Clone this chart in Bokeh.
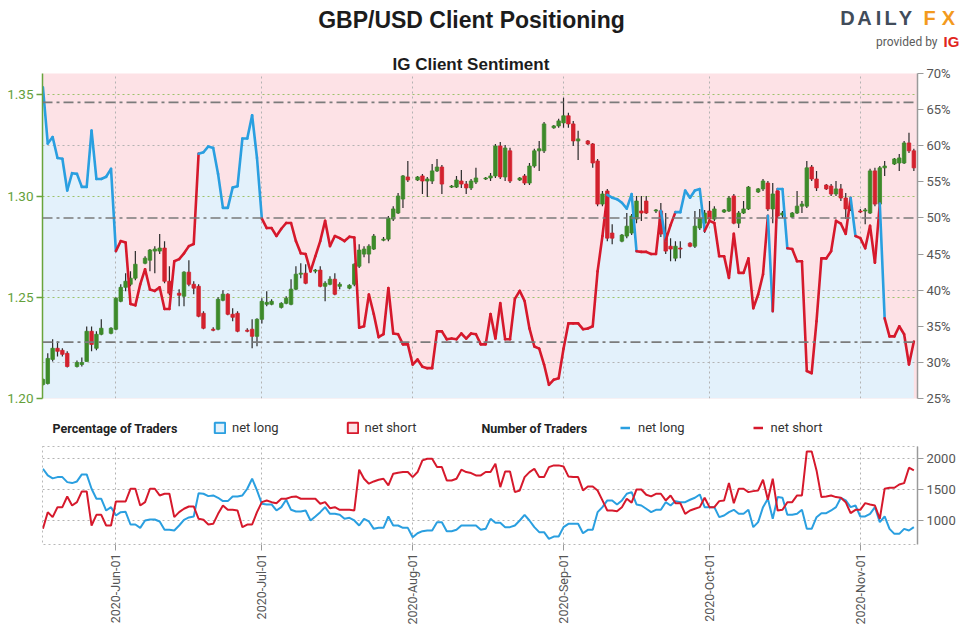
import math
import pandas as pd
from bokeh.plotting import figure
from bokeh.models import (Range1d, LinearAxis, FixedTicker, Grid, Span, Label,
                          ColumnDataSource, NumeralTickFormatter, PrintfTickFormatter,
                          DatetimeTickFormatter, Legend, LegendItem)
from bokeh.layouts import column
from bokeh.embed import file_html
from bokeh.resources import INLINE

FONT = "Roboto"
TFONT = "Liberation Sans"

# ---------------- data ----------------
candle_first, candle_last = "2020-05-17", "2020-11-12"   # daily candles, no Saturdays
sent_first, sent_last = "2020-05-17", "2020-11-12"       # daily sentiment readings

open_ = [1.2069, 1.2074, 1.2193, 1.2248, 1.2238, 1.2223,
         1.2158, 1.2168, 1.2183, 1.2332, 1.2248, 1.2317,
         1.2322,
         1.2342, 1.2480, 1.2549, 1.2564, 1.2594,
         1.2668, 1.2683, 1.2728, 1.2728, 1.2743, 1.2579,
         1.2520, 1.2505, 1.2624, 1.2564, 1.2554, 1.2421,
         1.2342, 1.2342, 1.2485, 1.2515, 1.2416, 1.2421,
         1.2337, 1.2342, 1.2307,
         1.2391, 1.2465, 1.2465,
         1.2450, 1.2470, 1.2465, 1.2540, 1.2614, 1.2619,
         1.2629, 1.2634, 1.2554, 1.2564, 1.2589, 1.2554,
         1.2545, 1.2564, 1.2653, 1.2713, 1.2713, 1.2738,
         1.2782, 1.2787, 1.2886, 1.2916, 1.2985, 1.3094,
         1.3079, 1.3099, 1.3074, 1.3074, 1.3124, 1.3143,
         1.3044, 1.3044, 1.3074, 1.3059, 1.3040, 1.3069,
         1.3084, 1.3089, 1.3099, 1.3247, 1.3094, 1.3223,
         1.3079, 1.3099, 1.3064, 1.3148, 1.3223, 1.3223,
         1.3337, 1.3346,
         1.3361, 1.3396, 1.3356, 1.3272,
         1.3272, 1.3257, 1.3173, 1.2960, 1.3025, 1.2817,
         1.2777, 1.2802, 1.2817, 1.2886, 1.2926, 1.2975,
         1.2926, 1.2926, 1.2817, 1.2752, 1.2693, 1.2743,
         1.2767, 1.2752, 1.2842, 1.2866,
         1.2926, 1.2886,
         1.2921, 1.2926, 1.3000, 1.2866, 1.2916, 1.2936,
         1.3020, 1.3035, 1.3064, 1.2936, 1.3025, 1.2906,
         1.2896, 1.2916, 1.2950, 1.2950, 1.3143, 1.3084,
         1.3054, 1.3049, 1.3010, 1.3035, 1.2990, 1.2936,
         1.2926, 1.2926, 1.2916, 1.3124, 1.2960, 1.3139,
         1.3158, 1.3163, 1.3163, 1.3262, 1.3223]

high = [1.2099, 1.2223, 1.2292, 1.2282, 1.2248, 1.2233,
        1.2188, 1.2203, 1.2356, 1.2356, 1.2332, 1.2391,
        1.2352,
        1.2500, 1.2564, 1.2619, 1.2629, 1.2728,
        1.2703, 1.2738, 1.2752, 1.2812, 1.2777, 1.2653,
        1.2540, 1.2629, 1.2683, 1.2579, 1.2564, 1.2431,
        1.2352, 1.2500, 1.2535, 1.2520, 1.2446, 1.2431,
        1.2347, 1.2391, 1.2396,
        1.2495, 1.2530, 1.2490,
        1.2475, 1.2505, 1.2589, 1.2653, 1.2668, 1.2663,
        1.2639, 1.2653, 1.2579, 1.2604, 1.2619, 1.2574,
        1.2564, 1.2668, 1.2762, 1.2752, 1.2762, 1.2812,
        1.2797, 1.2901, 1.2950, 1.3015, 1.3104, 1.3173,
        1.3099, 1.3109, 1.3094, 1.3158, 1.3183, 1.3153,
        1.3054, 1.3099, 1.3129, 1.3074, 1.3084, 1.3139,
        1.3094, 1.3114, 1.3257, 1.3267, 1.3252, 1.3238,
        1.3094, 1.3109, 1.3163, 1.3233, 1.3272, 1.3366,
        1.3351, 1.3381,
        1.3485, 1.3411, 1.3371, 1.3322,
        1.3277, 1.3262, 1.3183, 1.3025, 1.3035, 1.2861,
        1.2812, 1.2916, 1.2911, 1.3000, 1.3000, 1.3000,
        1.2936, 1.2965, 1.2916, 1.2792, 1.2777, 1.2777,
        1.2772, 1.2926, 1.2936, 1.2931,
        1.2975, 1.2950,
        1.2936, 1.3000, 1.3010, 1.2926, 1.2975, 1.3049,
        1.3040, 1.3084, 1.3074, 1.3064, 1.3035, 1.2926,
        1.2921, 1.3025, 1.2975, 1.3173, 1.3153, 1.3124,
        1.3059, 1.3059, 1.3074, 1.3059, 1.3015, 1.2975,
        1.2936, 1.2941, 1.3134, 1.3139, 1.3148, 1.3173,
        1.3188, 1.3208, 1.3272, 1.3312, 1.3233]

low = [1.2064, 1.2069, 1.2183, 1.2208, 1.2208, 1.2153,
       1.2153, 1.2158, 1.2183, 1.2233, 1.2238, 1.2312,
       1.2317,
       1.2337, 1.2475, 1.2530, 1.2554, 1.2584,
       1.2663, 1.2629, 1.2619, 1.2713, 1.2569, 1.2510,
       1.2455, 1.2455, 1.2554, 1.2515, 1.2401, 1.2342,
       1.2332, 1.2337, 1.2480, 1.2411, 1.2381, 1.2327,
       1.2327, 1.2248, 1.2258,
       1.2371, 1.2455, 1.2460,
       1.2445, 1.2465, 1.2460, 1.2535, 1.2594, 1.2564,
       1.2619, 1.2549, 1.2480, 1.2559, 1.2510, 1.2540,
       1.2540, 1.2554, 1.2644, 1.2698, 1.2668, 1.2733,
       1.2777, 1.2777, 1.2876, 1.2911, 1.2941, 1.3069,
       1.3074, 1.3010, 1.2995, 1.3059, 1.3119, 1.3010,
       1.3040, 1.3040, 1.3040, 1.3010, 1.3030, 1.3059,
       1.3079, 1.3074, 1.3089, 1.3084, 1.3074, 1.3064,
       1.3074, 1.3054, 1.3054, 1.3139, 1.3124, 1.3213,
       1.3332, 1.3337,
       1.3337, 1.3337, 1.3247, 1.3178,
       1.3252, 1.3139, 1.2950, 1.2950, 1.2777, 1.2762,
       1.2772, 1.2792, 1.2807, 1.2866, 1.2876, 1.2911,
       1.2916, 1.2797, 1.2713, 1.2678, 1.2678, 1.2693,
       1.2747, 1.2743, 1.2832, 1.2817,
       1.2876, 1.2876,
       1.2916, 1.2921, 1.2861, 1.2842, 1.2911, 1.2931,
       1.3015, 1.3025, 1.2926, 1.2866, 1.2891, 1.2891,
       1.2891, 1.2911, 1.2916, 1.2941, 1.3074, 1.3025,
       1.3030, 1.3000, 1.3000, 1.2975, 1.2886, 1.2926,
       1.2916, 1.2861, 1.2911, 1.2950, 1.2950, 1.3099,
       1.3153, 1.3124, 1.3158, 1.3213, 1.3124]

close = [1.2094, 1.2198, 1.2248, 1.2233, 1.2218, 1.2158,
         1.2178, 1.2178, 1.2332, 1.2267, 1.2317, 1.2347,
         1.2347,
         1.2495, 1.2549, 1.2579, 1.2594, 1.2663,
         1.2693, 1.2733, 1.2738, 1.2743, 1.2579, 1.2520,
         1.2510, 1.2624, 1.2564, 1.2545, 1.2406, 1.2347,
         1.2337, 1.2490, 1.2515, 1.2416, 1.2401, 1.2332,
         1.2332, 1.2307, 1.2391,
         1.2480, 1.2475, 1.2480,
         1.2470, 1.2495, 1.2540, 1.2614, 1.2619, 1.2569,
         1.2634, 1.2554, 1.2569, 1.2589, 1.2515, 1.2564,
         1.2559, 1.2663, 1.2733, 1.2738, 1.2752, 1.2802,
         1.2787, 1.2891, 1.2936, 1.3000, 1.3099, 1.3079,
         1.3094, 1.3074, 1.3084, 1.3124, 1.3143, 1.3059,
         1.3049, 1.3079, 1.3059, 1.3040, 1.3074, 1.3089,
         1.3089, 1.3099, 1.3247, 1.3094, 1.3237, 1.3074,
         1.3089, 1.3064, 1.3148, 1.3223, 1.3233, 1.3356,
         1.3346, 1.3371,
         1.3396, 1.3356, 1.3272, 1.3282,
         1.3257, 1.3163, 1.2960, 1.3010, 1.2792, 1.2792,
         1.2807, 1.2851, 1.2901, 1.2975, 1.2916, 1.2916,
         1.2931, 1.2812, 1.2728, 1.2738, 1.2752, 1.2738,
         1.2752, 1.2851, 1.2891, 1.2916,
         1.2886, 1.2936,
         1.2931, 1.2990, 1.2866, 1.2916, 1.2936, 1.3044,
         1.3035, 1.3074, 1.2936, 1.3010, 1.2901, 1.2916,
         1.2916, 1.2950, 1.2960, 1.3139, 1.3084, 1.3040,
         1.3035, 1.3010, 1.3035, 1.2990, 1.2936, 1.2950,
         1.2921, 1.2931, 1.3124, 1.2960, 1.3139, 1.3148,
         1.3183, 1.3188, 1.3262, 1.3223, 1.3139]

# % of clients net long (daily)
pct_net_long = [68.1, 60.3, 61.2, 58.3, 58.2, 53.8, 56.2, 56.1, 54.3, 54.3,
                62.1, 55.4, 55.4, 55.7, 56.8, 45.4, 46.8, 46.6, 38.1, 37.9,
                40.8, 42.9, 40.1, 39.9, 40.4, 37.4, 37.4, 44.0, 44.3, 45.1,
                46.1, 46.4, 58.9, 59.1, 59.9, 59.7, 56.1, 51.4, 51.4, 54.2,
                54.4, 61.0, 61.0, 64.2, 58.3, 49.9, 48.6, 48.6, 47.5, 48.5,
                49.3, 49.3, 46.8, 45.1, 45.0, 42.6, 44.7, 46.8, 49.6, 46.1,
                47.5, 47.2, 46.8, 47.4, 47.3, 34.8, 35.0, 39.4, 36.7, 33.5,
                33.9, 40.3, 34.0, 33.9, 32.5, 32.5, 29.7, 30.4, 29.4, 29.2,
                29.2, 34.3, 34.3, 33.2, 33.3, 33.2, 34.0, 33.3, 34.0, 33.9,
                32.5, 32.5, 36.7, 33.3, 38.2, 33.2, 33.2, 38.8, 39.9, 38.5,
                34.7, 32.2, 31.9, 29.7, 26.9, 27.6, 27.8, 31.9, 35.4, 35.4,
                35.4, 34.6, 34.7, 35.0, 42.6, 47.5, 53.2, 52.8, 52.6, 52.1,
                51.3, 53.3, 45.4, 45.3, 45.3, 45.0, 45.0, 51.0, 46.9, 49.0,
                50.8, 50.8, 53.8, 52.8, 53.8, 54.0, 48.2, 49.6, 49.3, 44.7,
                44.7, 41.7, 47.8, 42.4, 42.4, 44.4, 37.5, 39.4, 42.2, 50.3,
                37.1, 54.0, 54.0, 45.8, 45.7, 44.0, 44.0, 28.8, 28.5, 35.7,
                44.4, 44.4, 45.4, 49.6, 49.2, 47.8, 52.8, 47.5, 47.2, 45.8,
                48.9, 43.8, 52.0, 36.1, 33.6, 33.6, 35.0, 33.9, 29.7, 32.9]

traders_long = [1839, 1730, 1682, 1703, 1703, 1622, 1606, 1633, 1747, 1747,
                1514, 1352, 1352, 1162, 1216, 1081, 1135, 1140, 935, 935,
                881, 1000, 1016, 1016, 984, 849, 849, 838, 919, 1011,
                1049, 1065, 1443, 1433, 1395, 1406, 1368, 1314, 1314, 1390,
                1390, 1406, 1514, 1677, 1487, 1271, 1260, 1260, 1162, 1216,
                1336, 1173, 1146, 1146, 1162, 1000, 1065, 1135, 1216, 1108,
                1108, 1092, 1027, 1043, 1000, 919, 1027, 984, 865, 881,
                881, 1065, 919, 919, 881, 881, 729, 794, 827, 838,
                838, 973, 973, 827, 827, 849, 919, 919, 919, 919,
                849, 865, 1027, 962, 962, 892, 892, 919, 1000, 1092,
                1000, 892, 811, 811, 703, 740, 740, 892, 946, 946,
                946, 794, 849, 849, 1135, 1216, 1325, 1325, 1260, 1325,
                1433, 1460, 1260, 1243, 1190, 1135, 1173, 1173, 1297, 1243,
                1314, 1297, 1297, 1336, 1368, 1422, 1216, 1216, 1216, 1054,
                1081, 1135, 1173, 1108, 1108, 1173, 892, 973, 1216, 1352,
                1027, 1379, 1368, 1092, 1092, 1108, 1173, 865, 865, 1054,
                1119, 1119, 1162, 1216, 1368, 1325, 1216, 1243, 1065, 1065,
                1108, 1216, 973, 1065, 865, 784, 784, 865, 838, 892]

traders_short = [865, 1135, 1054, 1216, 1216, 1389, 1243, 1297, 1471, 1471,
                 919, 1092, 1092, 919, 919, 1308, 1308, 1308, 1514, 1514,
                 1243, 1297, 1514, 1514, 1406, 1433, 1433, 1054, 1135, 1190,
                 1227, 1227, 1027, 1011, 935, 946, 1108, 1243, 1173, 1173,
                 1162, 892, 935, 935, 1135, 1297, 1325, 1297, 1281, 1352,
                 1352, 1379, 1390, 1352, 1352, 1352, 1352, 1271, 1297, 1200,
                 1216, 1173, 1173, 1173, 1162, 1823, 1677, 1596, 1633, 1660,
                 1677, 1568, 1758, 1774, 1785, 1785, 1703, 1785, 1974, 2001,
                 2001, 1865, 1865, 1649, 1649, 1677, 1823, 1785, 1769, 1730,
                 1730, 1785, 1785, 1920, 1541, 1795, 1795, 1460, 1487, 1703,
                 1784, 1839, 1703, 1703, 1865, 1893, 1893, 1876, 1714, 1703,
                 1703, 1487, 1552, 1552, 1487, 1325, 1162, 1162, 1151, 1216,
                 1352, 1290, 1503, 1503, 1417, 1390, 1433, 1433, 1325, 1406,
                 1281, 1281, 1108, 1162, 1190, 1216, 1368, 1216, 1216, 1314,
                 1325, 1606, 1281, 1514, 1514, 1460, 1476, 1487, 1660, 1336,
                 1677, 1162, 1173, 1297, 1297, 1406, 1406, 2120, 2120, 1812,
                 1379, 1390, 1406, 1379, 1368, 1297, 1119, 1173, 1173, 1281,
                 1260, 1243, 1027, 1514, 1530, 1530, 1584, 1606, 1855, 1812]

price_ticks = [1.20, 1.25, 1.30, 1.35]
pct_ticks = [25, 30, 35, 40, 45, 50, 55, 60, 65, 70]
pct_grid = [30, 40, 60, 70]
ref_levels_pct = [66.0, 50.0, 32.8]
count_ticks = [1000, 1500, 2000]
month_ticks = ["2020-06-01", "2020-07-01", "2020-08-01", "2020-09-01", "2020-10-01", "2020-11-01"]

# ---------------- styling ----------------
BLUE = "#2a9fe0"
RED = "#d6192c"
FILL_BLUE = "#e3f1fb"
FILL_PINK = "#fde2e6"
CANDLE_UP = "#3d8a2a"
CANDLE_DN = "#d3222e"
AXIS_GREEN = "#68a43c"
GRID_GREY = "#b3b3b3"
GRID_GREEN = "#9cc26a"
W = 970

candle_dates = [d for d in pd.date_range(candle_first, candle_last, freq="D") if d.dayofweek != 5]
sent_dates = list(pd.date_range(sent_first, sent_last, freq="D"))
assert len(candle_dates) == len(open_) == len(high) == len(low) == len(close)
assert len(sent_dates) == len(pct_net_long) == len(traders_long) == len(traders_short)
month_ms = [pd.Timestamp(t).value / 1e6 for t in month_ticks]

x_rng = Range1d(pd.Timestamp("2020-05-16 22:00"), pd.Timestamp("2020-11-12 18:00"))


def no_align(fig):
    try:
        fig.frame_align = False
    except Exception:
        pass


# ---------------- header (title + logo) ----------------
hd = figure(width=W, height=50, x_range=Range1d(0, W), y_range=Range1d(0, 50),
            x_axis_location=None, y_axis_location=None, output_backend="svg",
            toolbar_location=None, title_location=None, min_border=0,
            outline_line_color=None)
hd.grid.visible = False
no_align(hd)


def hlab(x, y, text, size, color, bold=False, align="center", font=FONT):
    hd.add_layout(Label(x=x, y=y, x_units="screen", y_units="screen", text=text,
                        text_font=font, text_font_size=size, text_color=color,
                        text_font_style="bold" if bold else "normal",
                        text_align=align, text_baseline="middle"))


hlab(471, 31, "GBP/USD Client Positioning", "23px", "#1c1c1c", bold=True, font=TFONT)
for ch, xx, col in [("D", 847, "#414c5a"), ("A", 864, "#414c5a"), ("I", 878, "#414c5a"),
                    ("L", 890, "#414c5a"), ("Y", 905, "#414c5a"),
                    ("F", 929, "#f39a1e"), ("X", 948, "#f39a1e")]:
    hlab(xx, 33, ch, "20px", col, bold=True, font=TFONT)
hlab(937, 9, "provided by", "12px", "#5b5b5b", align="right")
hlab(943, 9, "IG", "15px", "#e1261c", bold=True, align="left", font=TFONT)

# ---------------- top panel ----------------
p1 = figure(width=W, height=363, x_range=x_rng, y_range=Range1d(1.20, 1.3605),
            x_axis_type="datetime", x_axis_location=None, y_axis_location="left",
            output_backend="svg", toolbar_location=None,
            title="IG Client Sentiment", title_location="above",
            min_border_left=42, min_border_right=53, min_border_top=23, min_border_bottom=15,
            background_fill_color=FILL_PINK, outline_line_color=None)
p1.title.align = "left"
p1.title.offset = 350
p1.title.standoff = 0
p1.title.text_font = TFONT
p1.title.text_font_size = "17px"
p1.title.text_font_style = "bold"
p1.title.text_color = "#1c1c1c"
p1.extra_y_ranges = {"pct": Range1d(25, 70)}
p1.grid.visible = False

p1.add_layout(Grid(dimension=0, ticker=FixedTicker(ticks=month_ms),
                   grid_line_color=GRID_GREY, grid_line_dash="2 3"))
p1.add_layout(Grid(dimension=1, y_range_name="pct", ticker=FixedTicker(ticks=pct_grid),
                   grid_line_color=GRID_GREY, grid_line_dash="2 3"))
p1.add_layout(Grid(dimension=1, ticker=FixedTicker(ticks=price_ticks),
                   grid_line_color=GRID_GREEN, grid_line_dash="2 3", grid_line_width=1.2))

ax = p1.yaxis[0]
ax.ticker = FixedTicker(ticks=price_ticks)
ax.formatter = NumeralTickFormatter(format="0.00")
ax.axis_line_color = AXIS_GREEN
ax.axis_line_width = 1.5
ax.major_tick_line_color = AXIS_GREEN
ax.major_tick_line_width = 1.5
ax.major_tick_out = 6
ax.major_tick_in = 0
ax.minor_tick_line_color = None
ax.major_label_text_color = "#64a03a"
ax.major_label_text_font = FONT
ax.major_label_text_font_size = "13.5px"
ax.major_label_standoff = 3

ax_r = LinearAxis(y_range_name="pct", ticker=FixedTicker(ticks=pct_ticks),
                  formatter=PrintfTickFormatter(format="%d%%"))
ax_r.axis_line_color = "#9a9a9a"
ax_r.axis_line_width = 1.5
ax_r.major_tick_line_color = "#9a9a9a"
ax_r.major_tick_out = 6
ax_r.major_tick_in = 0
ax_r.minor_tick_line_color = None
ax_r.major_label_text_color = "#555555"
ax_r.major_label_text_font = FONT
ax_r.major_label_text_font_size = "13px"
ax_r.major_label_standoff = 3
p1.add_layout(ax_r, "right")

src_s = ColumnDataSource(dict(date=sent_dates, pct=pct_net_long,
                              long=traders_long, short=traders_short))
p1.varea(x="date", y1=25, y2="pct", source=src_s, y_range_name="pct",
         fill_color=FILL_BLUE, level="image")

for lvl in ref_levels_pct:
    p1.add_layout(Span(location=lvl, dimension="width", y_range_name="pct",
                       line_color="#7b7b7b", line_width=1.6, line_dash="10 4 3 4"))

src_c = ColumnDataSource(dict(
    date=candle_dates, open=open_, high=high, low=low, close=close,
    top=[max(o, c) for o, c in zip(open_, close)],
    bottom=[min(o, c) for o, c in zip(open_, close)],
    color=[CANDLE_UP if c >= o else CANDLE_DN for o, c in zip(open_, close)]))
p1.segment(x0="date", y0="low", x1="date", y1="high", source=src_c,
           line_color="#2b2b2b", line_width=1.2)
p1.vbar(x="date", width=0.72 * 86400000, top="top", bottom="bottom", source=src_c,
        fill_color="color", line_color="color", line_width=0.8)

seg = ColumnDataSource(dict(
    x0=sent_dates[:-1], x1=sent_dates[1:],
    y0=pct_net_long[:-1], y1=pct_net_long[1:],
    color=[BLUE if v >= 50 else RED for v in pct_net_long[:-1]]))
p1.segment(x0="x0", y0="y0", x1="x1", y1="y1", source=seg, y_range_name="pct",
           line_color="color", line_width=2.6, line_cap="round")

# ---------------- legend strip ----------------
pl = figure(width=W, height=30, x_range=Range1d(0, W), y_range=Range1d(0, 30),
            x_axis_location=None, y_axis_location=None, output_backend="svg",
            toolbar_location=None, title_location=None, min_border=0,
            outline_line_color=None)
pl.grid.visible = False
no_align(pl)
# legend proxies kept outside the visible range
r_pl = pl.quad(left=[-60], right=[-50], top=[-50], bottom=[-60], fill_color=FILL_BLUE,
               line_color=BLUE, line_width=2)
r_ps = pl.quad(left=[-60], right=[-50], top=[-50], bottom=[-60], fill_color=FILL_PINK,
               line_color=RED, line_width=2)
r_nl = pl.line(x=[-60, -50], y=[-60, -60], line_color=BLUE, line_width=2.5)
r_ns = pl.line(x=[-60, -50], y=[-60, -60], line_color=RED, line_width=2.5)


def mk_legend(items, loc, gw, standoff, spacing):
    return Legend(items=items, orientation="horizontal", location=loc,
                  glyph_width=gw, glyph_height=13, label_standoff=standoff,
                  spacing=spacing, padding=0, margin=0, border_line_color=None,
                  background_fill_alpha=0, label_text_font=FONT,
                  label_text_font_size="13px", label_height=14,
                  label_text_color="#333333")


pl.add_layout(mk_legend([LegendItem(label="net long", renderers=[r_pl]),
                         LegendItem(label="net short", renderers=[r_ps])],
                        (213, 8), 13, 6, 67))
pl.add_layout(mk_legend([LegendItem(label="net long", renderers=[r_nl]),
                         LegendItem(label="net short", renderers=[r_ns])],
                        (620, 8), 10, 8, 68))
for x, t in [(52, "Percentage of Traders"), (481, "Number of Traders")]:
    pl.add_layout(Label(x=x, y=15, x_units="screen", y_units="screen", text=t,
                        text_font=FONT, text_font_size="12.5px", text_font_style="bold",
                        text_color="#222222", text_baseline="middle"))

# ---------------- bottom panel ----------------
p2 = figure(width=W, height=184, x_range=x_rng, y_range=Range1d(611, 2199),
            x_axis_type="datetime", y_axis_location="right",
            output_backend="svg", toolbar_location=None, title_location=None,
            min_border_left=42, min_border_right=53, min_border_top=3, min_border_bottom=83,
            outline_line_color="#b8b8b8", outline_line_dash="2 3")
p2.line(x="date", y="long", source=src_s, line_color=BLUE, line_width=2)
p2.line(x="date", y="short", source=src_s, line_color=RED, line_width=2)

xa = p2.xaxis[0]
xa.ticker = FixedTicker(ticks=month_ms)
xa.formatter = DatetimeTickFormatter(days="%Y-%b-%d", months="%Y-%b-%d", years="%Y-%b-%d")
xa.major_label_orientation = math.pi / 2
xa.axis_line_color = None
xa.major_tick_line_color = "#9a9a9a"
xa.major_tick_out = 6
xa.major_tick_in = 0
xa.minor_tick_line_color = None
xa.major_label_text_font = FONT
xa.major_label_text_font_size = "12.5px"
xa.major_label_text_color = "#555555"
xa.major_label_standoff = 3

ya = p2.yaxis[0]
ya.ticker = FixedTicker(ticks=count_ticks)
ya.axis_line_color = "#9a9a9a"
ya.axis_line_width = 1.5
ya.major_tick_line_color = "#9a9a9a"
ya.major_tick_out = 6
ya.major_tick_in = 0
ya.minor_tick_line_color = None
ya.major_label_text_font = FONT
ya.major_label_text_font_size = "13px"
ya.major_label_text_color = "#555555"
ya.major_label_standoff = 3

p2.xgrid.grid_line_color = GRID_GREY
p2.xgrid.grid_line_dash = "2 3"
p2.ygrid.grid_line_color = GRID_GREY
p2.ygrid.grid_line_dash = "2 3"

layout = column(hd, p1, pl, p2)
open("out.html", "w").write(file_html(layout, INLINE))
